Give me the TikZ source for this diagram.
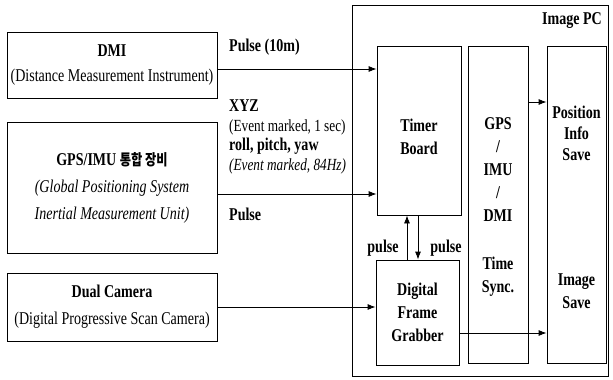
\documentclass[tikz,border=0pt]{standalone}
\usepackage{fontspec}
\setmainfont{Liberation Serif}[FakeStretch=0.78]
\newfontfamily\kofont{Noto Sans CJK KR}[Scale=0.85,FakeStretch=0.8]
\usetikzlibrary{arrows.meta}

\begin{document}
\begin{tikzpicture}[x=1pt, y=-1pt, >={Latex[length=8pt,width=6pt]},
    font=\fontsize{18}{23}\selectfont,
    box/.style={draw, line width=0.8pt, inner sep=0pt, align=center},
    ttl/.style={font=\fontsize{18}{23}\selectfont\bfseries, align=center, inner sep=1pt},
    sub/.style={font=\fontsize{17}{20}\selectfont, inner sep=1pt},
    conn/.style={->, line width=0.8pt}]
  \useasboundingbox (0,0) rectangle (613,380);
  % rows of the connectors
  \coordinate (dmiRow)  at (0,69);
  \coordinate (gpsRow)  at (0,194);
  \coordinate (infoRow) at (0,102);
  \coordinate (imgRow)  at (0,333);
  \coordinate (upX)     at (407,0);
  \coordinate (dnX)     at (418,0);
  % sensors
  \node[box, minimum width=210pt, minimum height=66pt] (dmi) at (112,65)
    {{\bfseries DMI}\\[2pt](Distance Measurement Instrument)};
  \node[box, minimum width=210pt, minimum height=131pt] (gps) at (112,187.5)
    {{\bfseries GPS/IMU {\kofont 통합 장비}}\\[4pt]{\itshape (Global Positioning System}\\[4pt]{\itshape Inertial Measurement Unit)}};
  \node[box, minimum width=210pt, minimum height=68pt] (cam) at (112,307)
    {{\bfseries Dual Camera}\\[4pt](Digital Progressive Scan Camera)};
  % image PC
  \node[box, minimum width=256pt, minimum height=371pt] (pc) at (480,190.5) {};
  \node[ttl, anchor=east] (pclbl) at (603,21) {Image PC};
  \node[box, minimum width=84pt, minimum height=169pt] (timer) at (419,130.5) {};
  \node[ttl] (timerlbl) at (419,137) {Timer\\Board};
  \node[box, minimum width=60pt, minimum height=317pt] (sync) at (498,204.5) {};
  \node[ttl] (synclbl) at (498,170) {GPS\\/\\IMU\\/\\DMI};
  \node[ttl] (timelbl) at (498,277) {Time\\Sync.};
  \node[box, minimum width=59pt, minimum height=317pt] (save) at (576.5,204.5) {};
  \node[ttl] (poslbl) at (576.5,133) {Position\\[-2pt]Info\\[-2pt]Save};
  \node[ttl] (imglbl) at (576.5,291) {Image\\Save};
  \node[box, ttl, inner sep=0pt, draw, minimum width=83pt, minimum height=105pt] (grabber) at (417.5,312.5)
    {Digital\\Frame\\Grabber};
  % connectors
  \draw[conn] (dmi.east |- dmiRow) -- (timer.west |- dmiRow);
  \draw[conn] (gps.east |- gpsRow) -- (timer.west |- gpsRow);
  \draw[conn] (cam.east) -- (cam.east -| grabber.west);
  \draw[conn] (sync.east |- infoRow) -- (save.west |- infoRow);
  \draw[conn] (grabber.east |- imgRow) -- (save.west |- imgRow);
  \draw[conn] (grabber.north -| upX) -- (timer.south -| upX);
  \draw[conn] (timer.south -| dnX) -- (grabber.north -| dnX);
  % labels
  \node[ttl, anchor=west] (dmipulse) at (228,47) {Pulse (10m)};
  \node[ttl, anchor=west] (xyz) at (228,106) {XYZ};
  \node[sub, anchor=west] (ev1) at (228,127) {(Event marked, 1 sec)};
  \node[ttl, anchor=west] (rpy) at (228,146) {roll, pitch, yaw};
  \node[sub, anchor=west] (ev2) at (228,166) {\itshape (Event marked, 84Hz)};
  \node[ttl, anchor=west] (gpspulse) at (228,214) {Pulse};
  \node[ttl] (pulseup) at (383,248) {pulse};
  \node[ttl] (pulsedn) at (446,248) {pulse};
\end{tikzpicture}
\end{document}
